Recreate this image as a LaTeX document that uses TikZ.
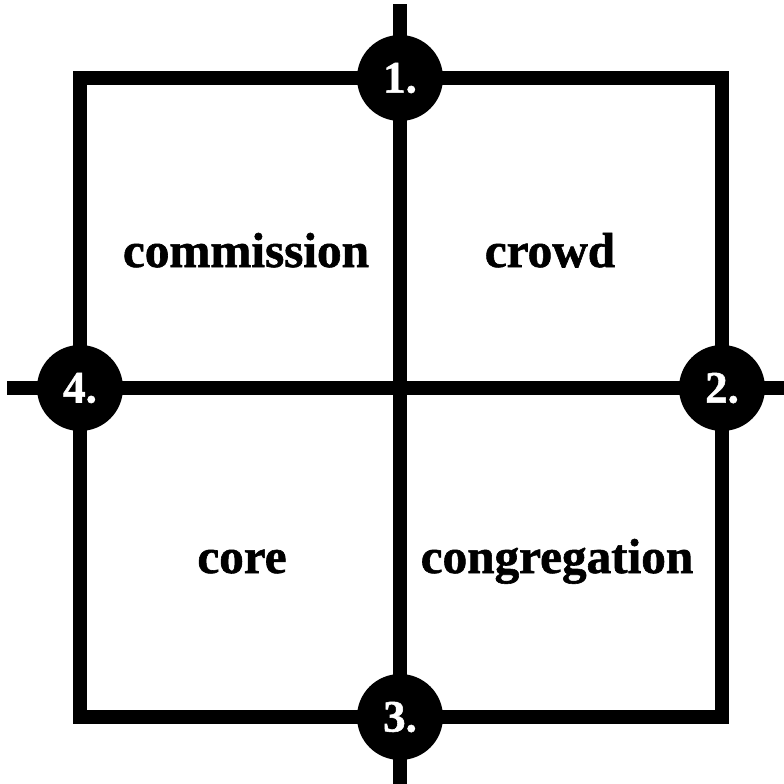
\documentclass[tikz,border=0pt]{standalone}
\usepackage{fontspec}
\setmainfont{Liberation Serif}
\newfontfamily\heavyserif{Liberation Serif}[UprightFont=*, BoldFont=* Bold, BoldFeatures={FakeBold=1.2}]
\usepackage{tikz}
\usetikzlibrary{positioning, calc}

\begin{document}
\begin{tikzpicture}[
    x=0.25mm, y=-0.25mm,
    frameline/.style={black, line width=3.3mm, line cap=butt},
    badge/.style={circle, fill=black, minimum size=21.5mm, inner sep=0pt,
                  text=white, font=\heavyserif\fontsize{32}{32}\selectfont\bfseries},
    quadlabel/.style={anchor=base, font=\heavyserif\fontsize{35}{35}\selectfont\bfseries}
]

% ---------- canvas ----------
\useasboundingbox (0,0) rectangle (784,784);

% ---------- parameters ----------
\def\xl{80}
\def\xr{722}
\def\yt{78}
\def\yb{717}
\def\xm{400}
\def\ym{388}

% ---------- axes ----------
\coordinate (axtop) at (\xm,4);
\coordinate (axbot) at (\xm,784);
\coordinate (axleft) at (7,\ym);
\coordinate (axright) at (784,\ym);
\draw[frameline] (axtop) -- (axbot);
\draw[frameline] (axleft) -- (axright);

% ---------- square ----------
\coordinate (sqtl) at (\xl,\yt);
\coordinate (sqbr) at (\xr,\yb);
\draw[frameline, line join=miter] (sqtl) rectangle (sqbr);

% ---------- badges ----------
\node[badge] (step1) at (\xm,\yt) {1.};
\node[badge] (step2) at (\xr,\ym) {2.};
\node[badge] (step3) at (\xm,\yb) {3.};
\node[badge] (step4) at (\xl,\ym) {4.};

% ---------- quadrants ----------
\node[quadlabel] (commission) at (246,267) {commission};
\node[quadlabel] (crowd) at (550,267) {crowd};
\node[quadlabel] (core) at (242,573) {core};
\node[quadlabel] (congregation) at (557,573) {congregation};

\end{tikzpicture}
\end{document}
